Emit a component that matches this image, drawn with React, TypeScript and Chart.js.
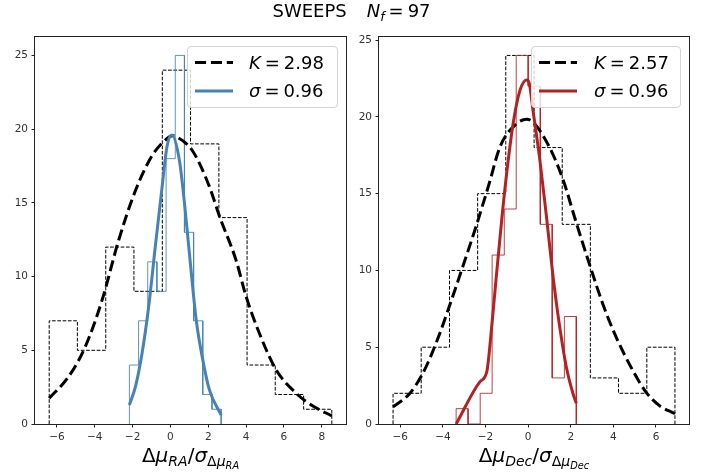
import React, { useEffect, useRef } from "react";
import { Chart, registerables } from "chart.js";
Chart.register(...registerables);

// ---------- data ----------
const yTicks = [0, 5, 10, 15, 20, 25];
const xTicksRA = [-6, -4, -2, 0, 2, 4, 6, 8];
const xTicksDec = [-6, -4, -2, 0, 2, 4, 6];

// RA panel: all stars (black dashed step histogram)
const raAllEdges = [-6.41, -4.92, -3.42, -1.93, -0.43, 1.06, 2.56, 4.05, 5.54, 7.04, 8.53];
const raAllCounts = [7, 5, 12, 9, 24, 19, 14, 4, 2, 1];
// RA panel: normalised (blue step histogram)
const raSelEdges = [-2.17, -1.685, -1.2, -0.715, -0.23, 0.255, 0.74, 1.225, 1.71, 2.195, 2.68];
const raSelCounts = [4, 7, 11, 9, 18, 25, 13, 7, 2, 1];
// RA panel: fitted curves
const raKx = [-6.41, -5.38, -4.5, -3.61, -2.73, -1.86, -0.97, -0.09, 0.1, 0.3, 1.18, 2.06, 2.59, 3.47, 4.0, 4.7, 5.59, 6.65, 7.53, 8.53];
const raKy = [1.74, 3.22, 5.25, 8.42, 12.5, 15.8, 18.2, 19.45, 19.56, 19.5, 18.5, 16.1, 14.1, 11.1, 8.65, 6.16, 3.67, 2.08, 1.22, 0.55];
const raSx = [-2.17, -1.85, -1.5, -1.15, -0.8, -0.44, -0.18, 0.08, 0.47, 0.74, 1.0, 1.36, 1.71, 2.06, 2.68];
const raSy = [1.29, 2.54, 4.8, 7.97, 12.05, 16.1, 18.84, 19.6, 17.9, 15.0, 11.6, 7.07, 4.35, 2.31, 0.61];

// Dec panel
const decAllEdges = [-6.34, -5.02, -3.69, -2.37, -1.05, 0.28, 1.6, 2.92, 4.24, 5.57, 6.89];
const decAllCounts = [2, 5, 10, 15, 24, 18, 13, 3, 2, 5];
const decSelEdges = [-3.38, -2.82, -2.25, -1.69, -1.12, -0.56, 0.0, 0.57, 1.13, 1.7, 2.26];
const decSelCounts = [1, 0, 2, 11, 14, 24, 22, 13, 3, 7];
const decKx = [-6.34, -5.57, -4.95, -4.33, -3.71, -3.08, -2.46, -1.84, -1.32, -0.59, -0.07, 0.23, 1.01, 1.64, 2.26, 2.88, 3.5, 4.13, 4.91, 5.53, 6.15, 6.89];
const decKy = [1.11, 1.97, 3.28, 5.23, 7.62, 10.2, 12.8, 15.6, 18.05, 19.5, 19.85, 19.65, 18.0, 15.9, 13.1, 10.4, 7.83, 5.66, 3.49, 2.08, 1.21, 0.67];
const decSx = [-3.38, -2.26, -1.94, -1.71, -1.48, -1.24, -1.01, -0.7, -0.39, -0.07, 0.05, 0.23, 0.55, 0.86, 1.17, 1.48, 1.79, 2.1, 2.26];
const decSy = [0.0, 2.76, 3.41, 6.34, 9.81, 13.3, 16.3, 19.6, 21.7, 22.4, 22.2, 20.4, 17.2, 13.5, 9.6, 6.34, 3.73, 2.0, 1.35];

const raLabels = { k: "2.98", s: "0.96" };
const decLabels = { k: "2.57", s: "0.96" };

const STEEL = "#4682b4";
const FIRE = "#b22222";
const FONT = "'DejaVu Sans', sans-serif";

// ---------- helpers ----------
function stepOutline(edges: number[], counts: number[]) {
  const pts: { x: number; y: number }[] = [{ x: edges[0], y: 0 }];
  counts.forEach((c, i) => {
    pts.push({ x: edges[i], y: c });
    pts.push({ x: edges[i + 1], y: c });
  });
  pts.push({ x: edges[edges.length - 1], y: 0 });
  return pts;
}
function zip(xs: number[], ys: number[]) {
  return xs.map((x, i) => ({ x, y: ys[i] }));
}
const fmt = (v: number) => (v < 0 ? "\u2212" + Math.abs(v) : String(v));

const framePlugin = {
  id: "frame",
  afterDatasetsDraw(chart: any) {
    const { ctx, chartArea: a } = chart;
    ctx.save();
    ctx.strokeStyle = "#222";
    ctx.lineWidth = 1;
    ctx.strokeRect(
      Math.round(a.left) - 0.5,
      Math.round(a.top) - 0.5,
      Math.round(a.right - a.left) + 1,
      Math.round(a.bottom - a.top) + 1
    );
    ctx.restore();
  },
};

function makeConfig(
  datasets: any[],
  xmin: number,
  xmax: number,
  ymax: number,
  xticks: number[],
  yWidth: number,
  padRight: number
): any {
  const tickFont = { family: FONT, size: 10.5 };
  return {
    type: "line",
    data: { datasets },
    plugins: [framePlugin],
    options: {
      animation: false,
      responsive: false,
      events: [],
      layout: { padding: { left: 0, top: 37, right: padRight, bottom: 0 } },
      plugins: { legend: { display: false }, tooltip: { enabled: false }, title: { display: false } },
      scales: {
        x: {
          type: "linear",
          min: xmin,
          max: xmax,
          afterBuildTicks: (s: any) => {
            s.ticks = xticks.map((v) => ({ value: v }));
          },
          afterFit: (s: any) => {
            s.height = 50;
          },
          grid: { drawOnChartArea: false, drawTicks: true, tickLength: 3.5, color: "#222", lineWidth: 1 },
          border: { display: false },
          ticks: { font: tickFont, color: "#333", padding: 3, maxRotation: 0, autoSkip: false, callback: (v: number) => fmt(v) },
        },
        y: {
          type: "linear",
          min: 0,
          max: ymax,
          afterBuildTicks: (s: any) => {
            s.ticks = yTicks.map((v) => ({ value: v }));
          },
          afterFit: (s: any) => {
            s.width = yWidth;
          },
          grid: { drawOnChartArea: false, drawTicks: true, tickLength: 3.5, color: "#222", lineWidth: 1 },
          border: { display: false },
          ticks: { font: tickFont, color: "#333", padding: 3.5, autoSkip: false, callback: (v: number) => fmt(v) },
        },
      },
    },
  };
}

function curve(data: any[], color: string, dash: number[] = []) {
  return {
    data,
    borderColor: color,
    borderWidth: 3,
    borderDash: dash,
    pointRadius: 0,
    fill: false,
    cubicInterpolationMode: "monotone",
  };
}
function hist(data: any[], color: string, dash: number[] = []) {
  return {
    data,
    borderColor: color,
    borderWidth: 1,
    borderDash: dash,
    pointRadius: 0,
    fill: false,
    tension: 0,
  };
}

function Panel(props: { left: number; config: () => any }) {
  const ref = useRef<HTMLCanvasElement>(null);
  useEffect(() => {
    const c = new Chart(ref.current as HTMLCanvasElement, props.config());
    return () => c.destroy();
  }, []);
  return (
    <canvas
      ref={ref}
      width={354}
      height={474}
      style={{ position: "absolute", left: props.left, top: 0, width: 354, height: 474 }}
    />
  );
}

const subStyle: React.CSSProperties = { fontSize: "0.7em", verticalAlign: "-0.3em", lineHeight: 0 };

function LegendBox(props: {
  left: number;
  width: number;
  handleX: number;
  textX: number;
  color: string;
  k: string;
  s: string;
}) {
  const { left, width, handleX, textX, color, k, s } = props;
  const top = 46;
  const rows = [62.5, 91];
  const txt: React.CSSProperties = {
    position: "absolute",
    left: textX - left,
    fontSize: 18,
    lineHeight: "18px",
    whiteSpace: "nowrap",
    color: "#000",
  };
  return (
    <div
      style={{
        position: "absolute",
        left,
        top,
        width,
        height: 62,
        boxSizing: "border-box",
        background: "rgba(255,255,255,0.8)",
        border: "1px solid #d3d3d3",
        borderRadius: 4,
        fontFamily: FONT,
      }}
    >
      <svg width={width} height={62} style={{ position: "absolute", left: -1, top: -1 }}>
        <line x1={handleX - left} x2={handleX - left + 38} y1={rows[0] - top} y2={rows[0] - top} stroke="#000" strokeWidth={3} strokeDasharray="11.1 4.8" />
        <line x1={handleX - left} x2={handleX - left + 38} y1={rows[1] - top} y2={rows[1] - top} stroke={color} strokeWidth={3} />
      </svg>
      <div style={{ ...txt, top: rows[0] - top - 10 }}>
        <i>K</i>
        <span style={{ margin: "0 0.22em" }}>=</span>
        {k}
      </div>
      <div style={{ ...txt, top: rows[1] - top - 10 }}>
        <i>σ</i>
        <span style={{ margin: "0 0.22em" }}>=</span>
        {s}
      </div>
    </div>
  );
}

export default function App() {
  const raConfig = () =>
    makeConfig(
      [
        curve(zip(raSx, raSy), STEEL),
        curve(zip(raKx, raKy), "#000", [11.1, 4.8]),
        hist(stepOutline(raSelEdges, raSelCounts), "rgba(70,130,180,0.85)"),
        hist(stepOutline(raAllEdges, raAllCounts), "#000", [3.7, 1.6]),
      ],
      -7.16,
      9.28,
      26.25,
      xTicksRA,
      35,
      8
    );
  const decConfig = () =>
    makeConfig(
      [
        curve(zip(decSx, decSy), FIRE),
        curve(zip(decKx, decKy), "#000", [11.1, 4.8]),
        hist(stepOutline(decSelEdges, decSelCounts), "rgba(178,34,34,0.85)"),
        hist(stepOutline(decAllEdges, decAllCounts), "#000", [3.7, 1.6]),
      ],
      -7.0,
      7.55,
      25.2,
      xTicksDec,
      25,
      19
    );

  const xlab: React.CSSProperties = {
    position: "absolute",
    top: 445,
    width: 240,
    textAlign: "center",
    fontSize: 20,
    lineHeight: "20px",
    fontFamily: FONT,
    color: "#000",
    whiteSpace: "nowrap",
  };

  return (
    <div style={{ position: "fixed", left: 0, top: 0, width: 708, height: 474, background: "#fff", overflow: "hidden", fontFamily: FONT }}>
      <Panel left={0} config={raConfig} />
      <Panel left={354} config={decConfig} />
      <div
        style={{
          position: "absolute",
          left: 0,
          top: 2,
          width: 703,
          textAlign: "center",
          fontSize: 18,
          lineHeight: "18px",
          color: "#000",
          whiteSpace: "nowrap",
        }}
      >
        SWEEPS
        <span style={{ marginLeft: 20 }}>
          <i>N</i>
          <sub style={subStyle}>
            <i>f</i>
          </sub>
          <span style={{ margin: "0 0.22em" }}>=</span>97
        </span>
      </div>
      <div style={{ ...xlab, left: 190.5 - 120 }}>
        Δ<i>μ</i>
        <sub style={subStyle}>
          <i>RA</i>
        </sub>
        /<i>σ</i>
        <sub style={subStyle}>
          Δ<i>μ</i>
          <sub style={subStyle}>
            <i>RA</i>
          </sub>
        </sub>
      </div>
      <div style={{ ...xlab, left: 534 - 120 }}>
        Δ<i>μ</i>
        <sub style={subStyle}>
          <i>Dec</i>
        </sub>
        /<i>σ</i>
        <sub style={subStyle}>
          Δ<i>μ</i>
          <sub style={subStyle}>
            <i>Dec</i>
          </sub>
        </sub>
      </div>
      <LegendBox left={187} width={151} handleX={195} textX={248} color={STEEL} k={raLabels.k} s={raLabels.s} />
      <LegendBox left={531} width={150} handleX={539} textX={593} color={FIRE} k={decLabels.k} s={decLabels.s} />
    </div>
  );
}
